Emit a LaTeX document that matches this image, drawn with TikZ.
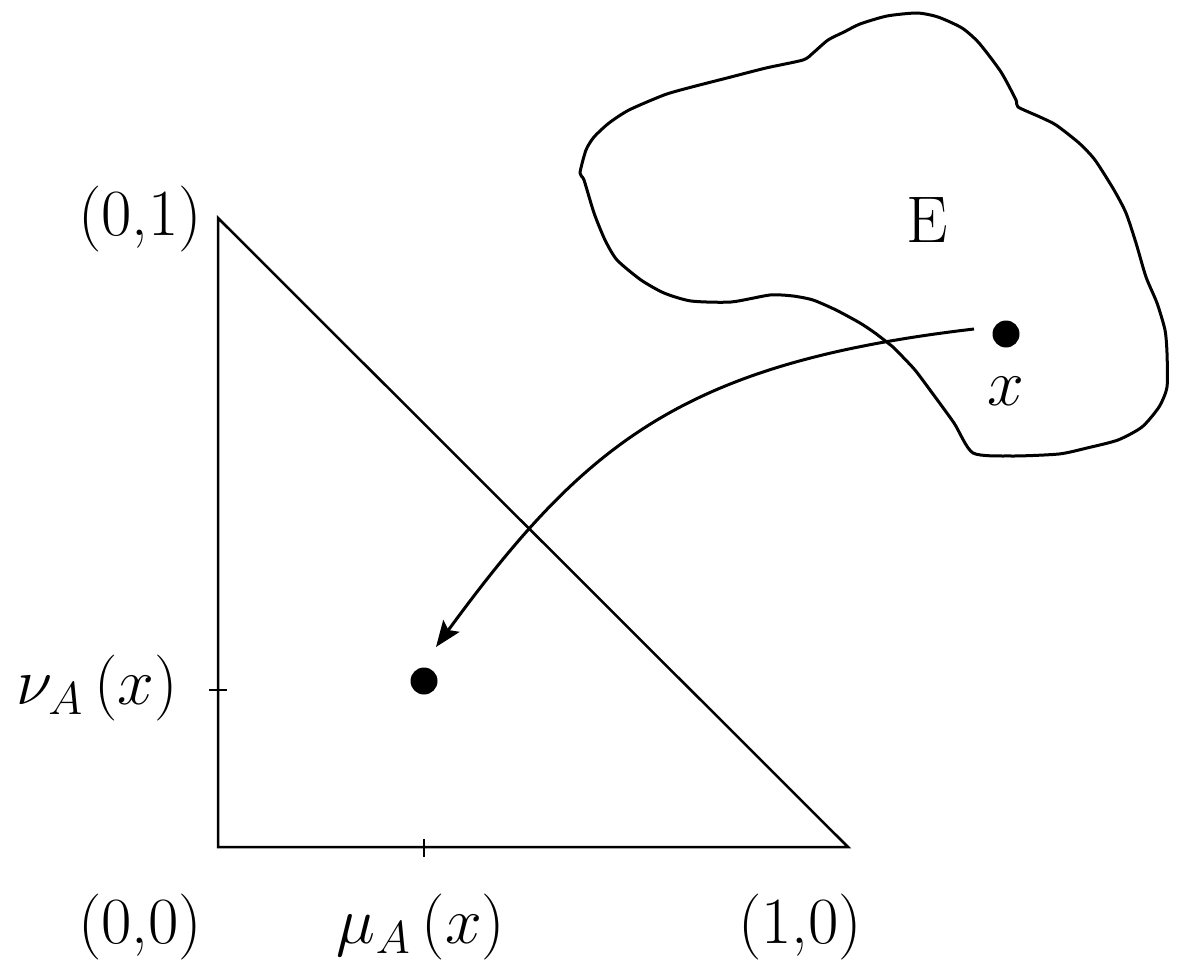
\RequirePackage{fix-cm}
\documentclass[tikz,border=0pt]{standalone}
\usetikzlibrary{arrows.meta,calc}
\begin{document}
\begin{tikzpicture}[x=0.5pt,y=-0.5pt,
  lbl/.style={inner sep=0pt, font=\fontsize{33}{39}\selectfont},
  edge/.style={line width=1.25pt},
  blob/.style={line width=1.5pt, line join=round},
  conn/.style={line width=1.5pt, -{Stealth[length=13pt,width=10pt,inset=2.5pt]}},
  dot/.style={circle, fill=black, inner sep=0pt, minimum size=13.5pt}]
\useasboundingbox (0,0) rectangle (1184,979);
% triangle
\coordinate (O) at (218,847);
\coordinate (T) at (218,218);
\coordinate (R) at (848,847);
\draw[edge] (T) -- (O) -- (R) -- cycle;
% ticks
\coordinate (ty) at (218,690);
\coordinate (tx) at (424,847);
\draw[edge] ($(ty)+(-9,0)$) -- ($(ty)+(9,0)$);
\draw[edge] ($(tx)+(0,-8)$) -- ($(tx)+(0,10)$);
% labels
\node[lbl] (l01) at (140,219) {(0,1)};
\node[lbl] (l00) at (140,927) {(0,0)};
\node[lbl] (l10) at (800,927) {(1,0)};
\node[lbl] (lmu) at (421,927) {$\mu_A\,(x)$};
\node[lbl] (lnu) at (97,688) {$\nu_A\,(x)$};
\node[lbl] (lE) at (927,220) {E};
\node[lbl] (lx) at (1006,391) {$x$};
% blob
\draw[blob] plot[smooth cycle, tension=0.4] coordinates {
(803,60) (813,53) (828,40) (844,32) (860,24) (887,16) (917,13) (938,17)
(962,28) (979,43) (1001,72) (1016,100) (1018,107) (1040,117) (1056,125)
(1079,143) (1095,160) (1114,190) (1126,213) (1136,243) (1146,277) (1157,303)
(1165,330) (1167,353) (1167,387) (1159,407) (1142,427) (1118,440) (1087,448)
(1059,454) (1012,456) (973,453) (954,423) (930,390) (915,370) (899,353)
(893,347) (875,333) (860,323) (836,310) (813,300) (793,296) (770,295)
(731,302) (691,301) (664,293) (641,280) (617,260) (605,240) (594,213)
(584,180) (580,173) (586,150) (594,137) (609,123) (629,110) (664,95)
(688,88) (727,78) (766,68)};
% dots
\node[dot] (px) at (1006,334) {};
\node[dot] (pa) at (424,681) {};
% arrow
\coordinate (as) at ($(px)+(-32,-5)$);
\coordinate (ae) at ($(pa)+(12,-34)$);
\draw[conn] (as) .. controls ($(as)+(-290,34)$) and ($(ae)+(150,-205)$) .. (ae);
\end{tikzpicture}
\end{document}
